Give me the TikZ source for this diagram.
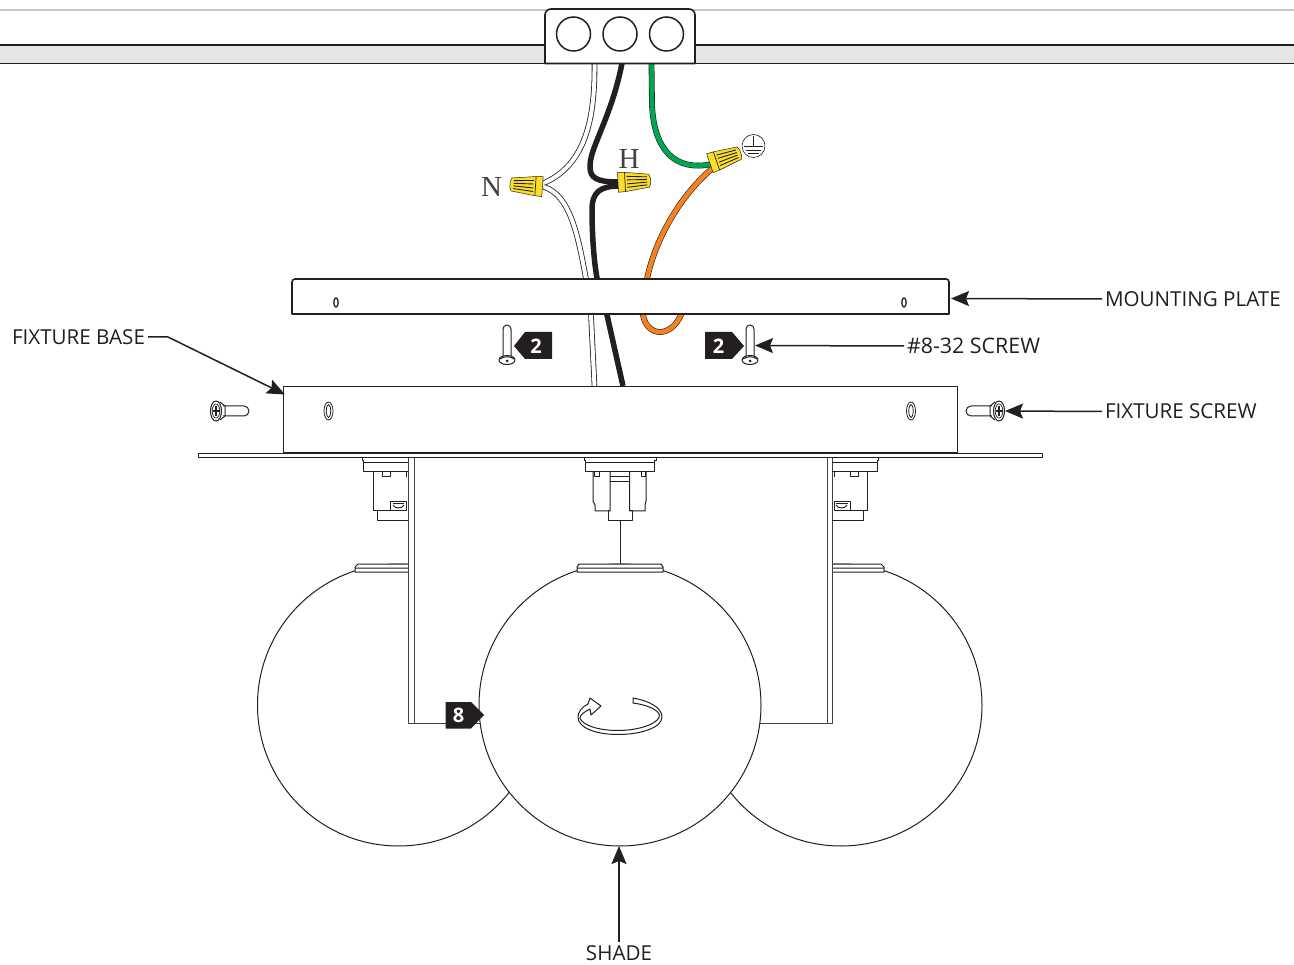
\documentclass[tikz,border=0pt]{standalone}
\usepackage{fontspec}
\setmainfont{Open Sans}
\newfontfamily\serifl{Liberation Serif}
\usetikzlibrary{arrows.meta}
\definecolor{ink}{HTML}{231F20}
\definecolor{wgreen}{HTML}{00A651}
\definecolor{worange}{HTML}{F58220}
\definecolor{nutyellow}{HTML}{FBDD2B}
\definecolor{band}{HTML}{E3E5E6}
\tikzset{
  body/.style={draw=ink,fill=white,line width=1.1pt,line join=round},
  thin part/.style={draw=ink,line width=1pt,line join=round},
  lead/.style={draw=ink,line width=1.5pt,-{Stealth[length=18pt,width=15pt,inset=3pt]}},
  label/.style={text=ink,font=\fontsize{20.6}{22}\selectfont,inner sep=0pt,outer xsep=3pt},
  tag/.style={fill=ink,draw=none},
  tagtext/.style={text=white,font=\fontsize{20}{22}\selectfont\bfseries,inner sep=0pt},
  letter/.style={text=ink!85,font=\serifl\fontsize{29}{31}\selectfont,inner sep=0pt},
  whitewire/.style={draw=ink,line width=.8pt,double=white,double distance=4pt},
  blackwire/.style={draw=ink,line width=5.5pt},
  greenwire/.style={draw=ink,line width=.6pt,double=wgreen,double distance=4.6pt},
  orangewire/.style={draw=ink,line width=.6pt,double=worange,double distance=4.6pt},
}
\newcommand{\wirenut}[3]{%
  \begin{scope}[shift={(#1,#2)},rotate=#3]
    \draw[fill=nutyellow,draw=ink,line width=.5pt,line join=round] (-16,-10) -- (-8,-9.5) -- (15,-6.5) -- (16.5,-3) -- (16.5,3) -- (15,6.5) -- (-8,9.5) -- (-16,10) -- cycle;
    \draw[draw=ink,line width=.7pt] (-9,-9.5) -- (-9,9.5);
    \draw[draw=ink,line width=.9pt] (-7,-5.5) -- (13,-4) (-7,-2) -- (13,-1.3) (-7,2) -- (13,1.3) (-7,5.5) -- (13,4);
  \end{scope}}
\newcommand{\vscrew}[2]{%
  \begin{scope}[shift={(#1,#2)}]
    \draw[body,line width=1pt] (-4,32) -- (-4,3) arc[start angle=180,end angle=360,radius=4] -- (4,32);
    \draw[body,line width=1pt] (0,34) ellipse[x radius=8,y radius=4.5];
    \draw[ink,line width=1pt] (-7,33) .. controls (-3,30) and (3,30) .. (7,33);
    \fill[ink] (0,35) circle[radius=1.5];
  \end{scope}}
\newcommand{\hscrew}[3]{%
  \begin{scope}[shift={(#1,#2)},xscale=#3]
    \draw[body,line width=1pt] (7,-5) -- (28,-5) arc[start angle=-90,end angle=90,radius=5] -- (7,5);
    \draw[body,line width=1pt] (9,-5) -- (4,-9) (9,5) -- (4,9) (9,-5) -- (9,5);
    \draw[body,line width=1pt] (0,0) ellipse[x radius=5.5,y radius=10];
    \draw[ink,line width=1.6pt] (-3.5,0) -- (3.5,0) (0,-5) -- (0,5);
    \draw[ink,line width=.7pt] (0,0) ellipse[x radius=3.8,y radius=7];
  \end{scope}}
\newcommand{\holderside}[2]{%
  \begin{scope}[shift={(#1,0)},xscale=#2]
    \draw[thin part] (0,458) -- (-46,458) -- (-46,461) -- (-45,461) -- (-45,472) -- (0,472);
    \draw[thin part] (-45,463) -- (0,463);
    \draw[thin part] (-35,472) -- (-35,511) -- (-31,511) -- (-31,521) -- (0,521);
    \draw[thin part] (-35,511) -- (-18,511) -- (-18,502) -- (-2,502) -- (-2,511) -- (-18,511);
    \draw[thin part] (-15.5,504) -- (-4,504);
    \draw[thin part] (-15,505) .. controls (-13,509) and (-6,509) .. (-4,505);
    \draw[thin part] (-26,472) -- (-26,477) -- (-18,477) -- (-18,472);
    \draw[thin part] (-2,472) -- (-2,477);
  \end{scope}}
\begin{document}
\begin{tikzpicture}[x=1pt,y=-1pt]
\useasboundingbox (0,0) rectangle (1294,965);
\fill[white] (0,0) rectangle (1294,965);
% ceiling
\draw[draw=black!22,line width=1.6pt] (0,10) -- (1294,10);
\fill[band] (0,45) rectangle (1294,63);
\draw[ink,line width=1.5pt] (0,45) -- (1294,45) (0,63.5) -- (1294,63.5);
% wires
\draw[whitewire] (594.5,64) .. controls (595,120) and (585,165) .. (544,183);
\draw[whitewire] (544,187) .. controls (570,195) and (578,235) .. (586,279) -- (591,315) -- (594.5,386);
\draw[blackwire] (622,63) .. controls (616,95) and (605,120) .. (600,133) .. controls (593,150) and (590,158) .. (590,167) .. controls (590,178) and (597,182) .. (618,182);
\draw[blackwire] (620,186) .. controls (600,186) and (592,192) .. (592,210) .. controls (592,235) and (594,262) .. (597,278) -- (607,315) -- (623,386);
\draw[greenwire] (651.5,63) -- (652,105) .. controls (654,150) and (675,172) .. (712,164);
\draw[orangewire] (714,167) .. controls (680,195) and (655,240) .. (647,279) -- (643,315) .. controls (645,326) and (652,332) .. (660,332) .. controls (668,332) and (676,326) .. (681,315) -- (690,290);
% junction box
\draw[body,line width=1.6pt] (545,63.5) -- (545,15) arc[start angle=180,end angle=270,radius=6] -- (689,9) arc[start angle=270,end angle=360,radius=6] -- (695,63.5) -- cycle;
\draw[ink,line width=1.5pt] (573.5,34) circle[radius=17] (620,34) circle[radius=17] (666.5,34) circle[radius=17];
% wire nuts
\wirenut{526.5}{185.5}{176}
\wirenut{634}{181.5}{3}
\wirenut{725}{158}{19}
% ground symbol
\draw[draw=ink,line width=.6pt] (753.5,146) circle[radius=11.5];
\draw[draw=ink,line width=.6pt] (753.5,136) -- (753.5,146) (744,146) -- (763,146) (746,150) -- (761,150) (748,153.5) -- (759,153.5);
\node[letter] (nlabel) at (491.5,187) {N};
\node[letter] (hlabel) at (629,159.5) {H};
% mounting plate
\draw[body,line width=1.6pt] (292,314) -- (292,282) arc[start angle=180,end angle=270,radius=3] -- (946,279) arc[start angle=270,end angle=360,radius=3] -- (949,314) -- cycle;
\draw[thin part,line width=1.3pt] (336,302.5) ellipse[x radius=2.2,y radius=4.6] (904,302.5) ellipse[x radius=2.2,y radius=4.6];
% vertical screws and tags
\vscrew{507}{326}
\vscrew{750}{326}
\fill[tag] (514,346) -- (525,332) -- (552,332) -- (552,359) -- (525,359) -- cycle;
\node[tagtext] (taga) at (536,346) {2};
\fill[tag] (705,332) -- (732,332) -- (744,346) -- (732,359) -- (705,359) -- cycle;
\node[tagtext] (tagb) at (718.5,346) {2};
% side shades
\draw[body,line width=1pt] (398.5,705) circle[radius=141];
\draw[body,line width=1pt] (841,705) circle[radius=141];
% side caps
\draw[body,line width=1pt] (408,564) -- (358,564) -- (355,567) -- (355,572) -- (408,572) (355,568) -- (408,568);
\draw[body,line width=1pt] (832,564) -- (881,564) -- (884,567) -- (884,572) -- (832,572) (884,568) -- (832,568);
% bracket
\fill[white] (408,458) rectangle (832,723);
\draw[thin part,draw=ink!85] (408,458) -- (408,723) -- (832,723) -- (832,458);
\draw[thin part,draw=ink!85] (414,458) -- (414,723) (827,458) -- (827,723);
% holders
\holderside{408}{1}
\holderside{832}{-1}
% center holder
\draw[thin part] (584,458) -- (584,461) -- (585,461) -- (585,472) -- (654.5,472) -- (654.5,461) -- (656,461) -- (656,458);
\draw[thin part] (585,463) -- (654.5,463);
\draw[thin part] (593,472) -- (593,501) -- (595,505) -- (595,511) -- (610,511) -- (610,472);
\draw[thin part] (646,472) -- (646,501) -- (645,505) -- (645,511) -- (629.5,511) -- (629.5,472);
\draw[thin part] (610,477) -- (629.5,477) (610,482) -- (629.5,482);
\draw[thin part] (610,511) -- (608,511) -- (608,521) -- (632,521) -- (632,511) -- (629.5,511);
\draw[thin part] (594.5,472) -- (594.5,477) -- (599,477) -- (599,472) (641,472) -- (641,477) -- (645.5,477) -- (645.5,472);
\draw[thin part] (620,521) -- (620,564);
% center shade
\draw[body,line width=1pt] (620,705) circle[radius=141];
\draw[body,line width=1pt] (577,572) -- (577,567) -- (579,564) -- (661,564) -- (663,567) -- (663,572) -- cycle (577,568) -- (663,568);
% base and flange
\draw[body,line width=1pt] (283,386.5) rectangle (957,453);
\draw[body,line width=1pt] (198,453.5) rectangle (1042,458);
\draw[thin part,line width=.8pt] (328.5,411) ellipse[x radius=4.5,y radius=9] (328.5,411) ellipse[x radius=2.2,y radius=6.5];
\draw[thin part,line width=.8pt] (911,411) ellipse[x radius=4.5,y radius=9] (911,411) ellipse[x radius=2.2,y radius=6.5];
% fixture screws
\hscrew{216}{411}{1}
\hscrew{999}{411}{-1}
% tag 8
\fill[tag] (445.5,702) -- (471,702) -- (484,715) -- (471,728.5) -- (445.5,728.5) -- cycle;
\node[tagtext] (tagc) at (458.5,715) {8};
% rotation arrow
\draw[draw=ink,fill=white,line width=1pt,line join=round] (633,698) .. controls (650,701) and (662,708) .. (662,717) .. controls (662,728) and (640,734.5) .. (618,734.5) .. controls (596,734.5) and (578,728) .. (578,717) .. controls (578,712) and (582,707) .. (588,704) -- (590,698) -- (601,706) -- (591,715) -- (590,709) .. controls (584,712) and (580,715) .. (580,718) .. controls (582,725) and (598,730.5) .. (618,730.5) .. controls (640,730.5) and (660,723) .. (659.5,715) .. controls (658,710) and (648,705) .. (633,703) -- cycle;
% labels and leaders
\coordinate (platetip) at (951,298.5);
\coordinate (screwtip) at (755,345.5);
\coordinate (fixscrewtip) at (1005,411);
\coordinate (basetip) at (285,394.5);
\coordinate (basebend) at (168,337);
\coordinate (shadetip) at (619,846);
\node[label,anchor=west] (lplate) at (1102,299) {MOUNTING PLATE};
\node[label,anchor=west,font=\fontsize{21.4}{22}\selectfont] (lscrew) at (904,346) {\#8-32 SCREW};
\node[label,anchor=west] (lfix) at (1102,411.5) {FIXTURE SCREW};
\node[label,anchor=east] (lbase) at (148,337) {FIXTURE BASE};
\node[label,anchor=north,outer ysep=2pt] (lshade) at (619,944) {SHADE};
\draw[lead] (lplate.west) -- (platetip);
\draw[lead] (lscrew.west) -- (screwtip);
\draw[lead] (lfix.west) -- (fixscrewtip);
\draw[lead] (lbase.east) -- (basebend) -- (basetip);
\draw[lead] (lshade.north) ++(0,-2) -- (shadetip);
\end{tikzpicture}
\end{document}
